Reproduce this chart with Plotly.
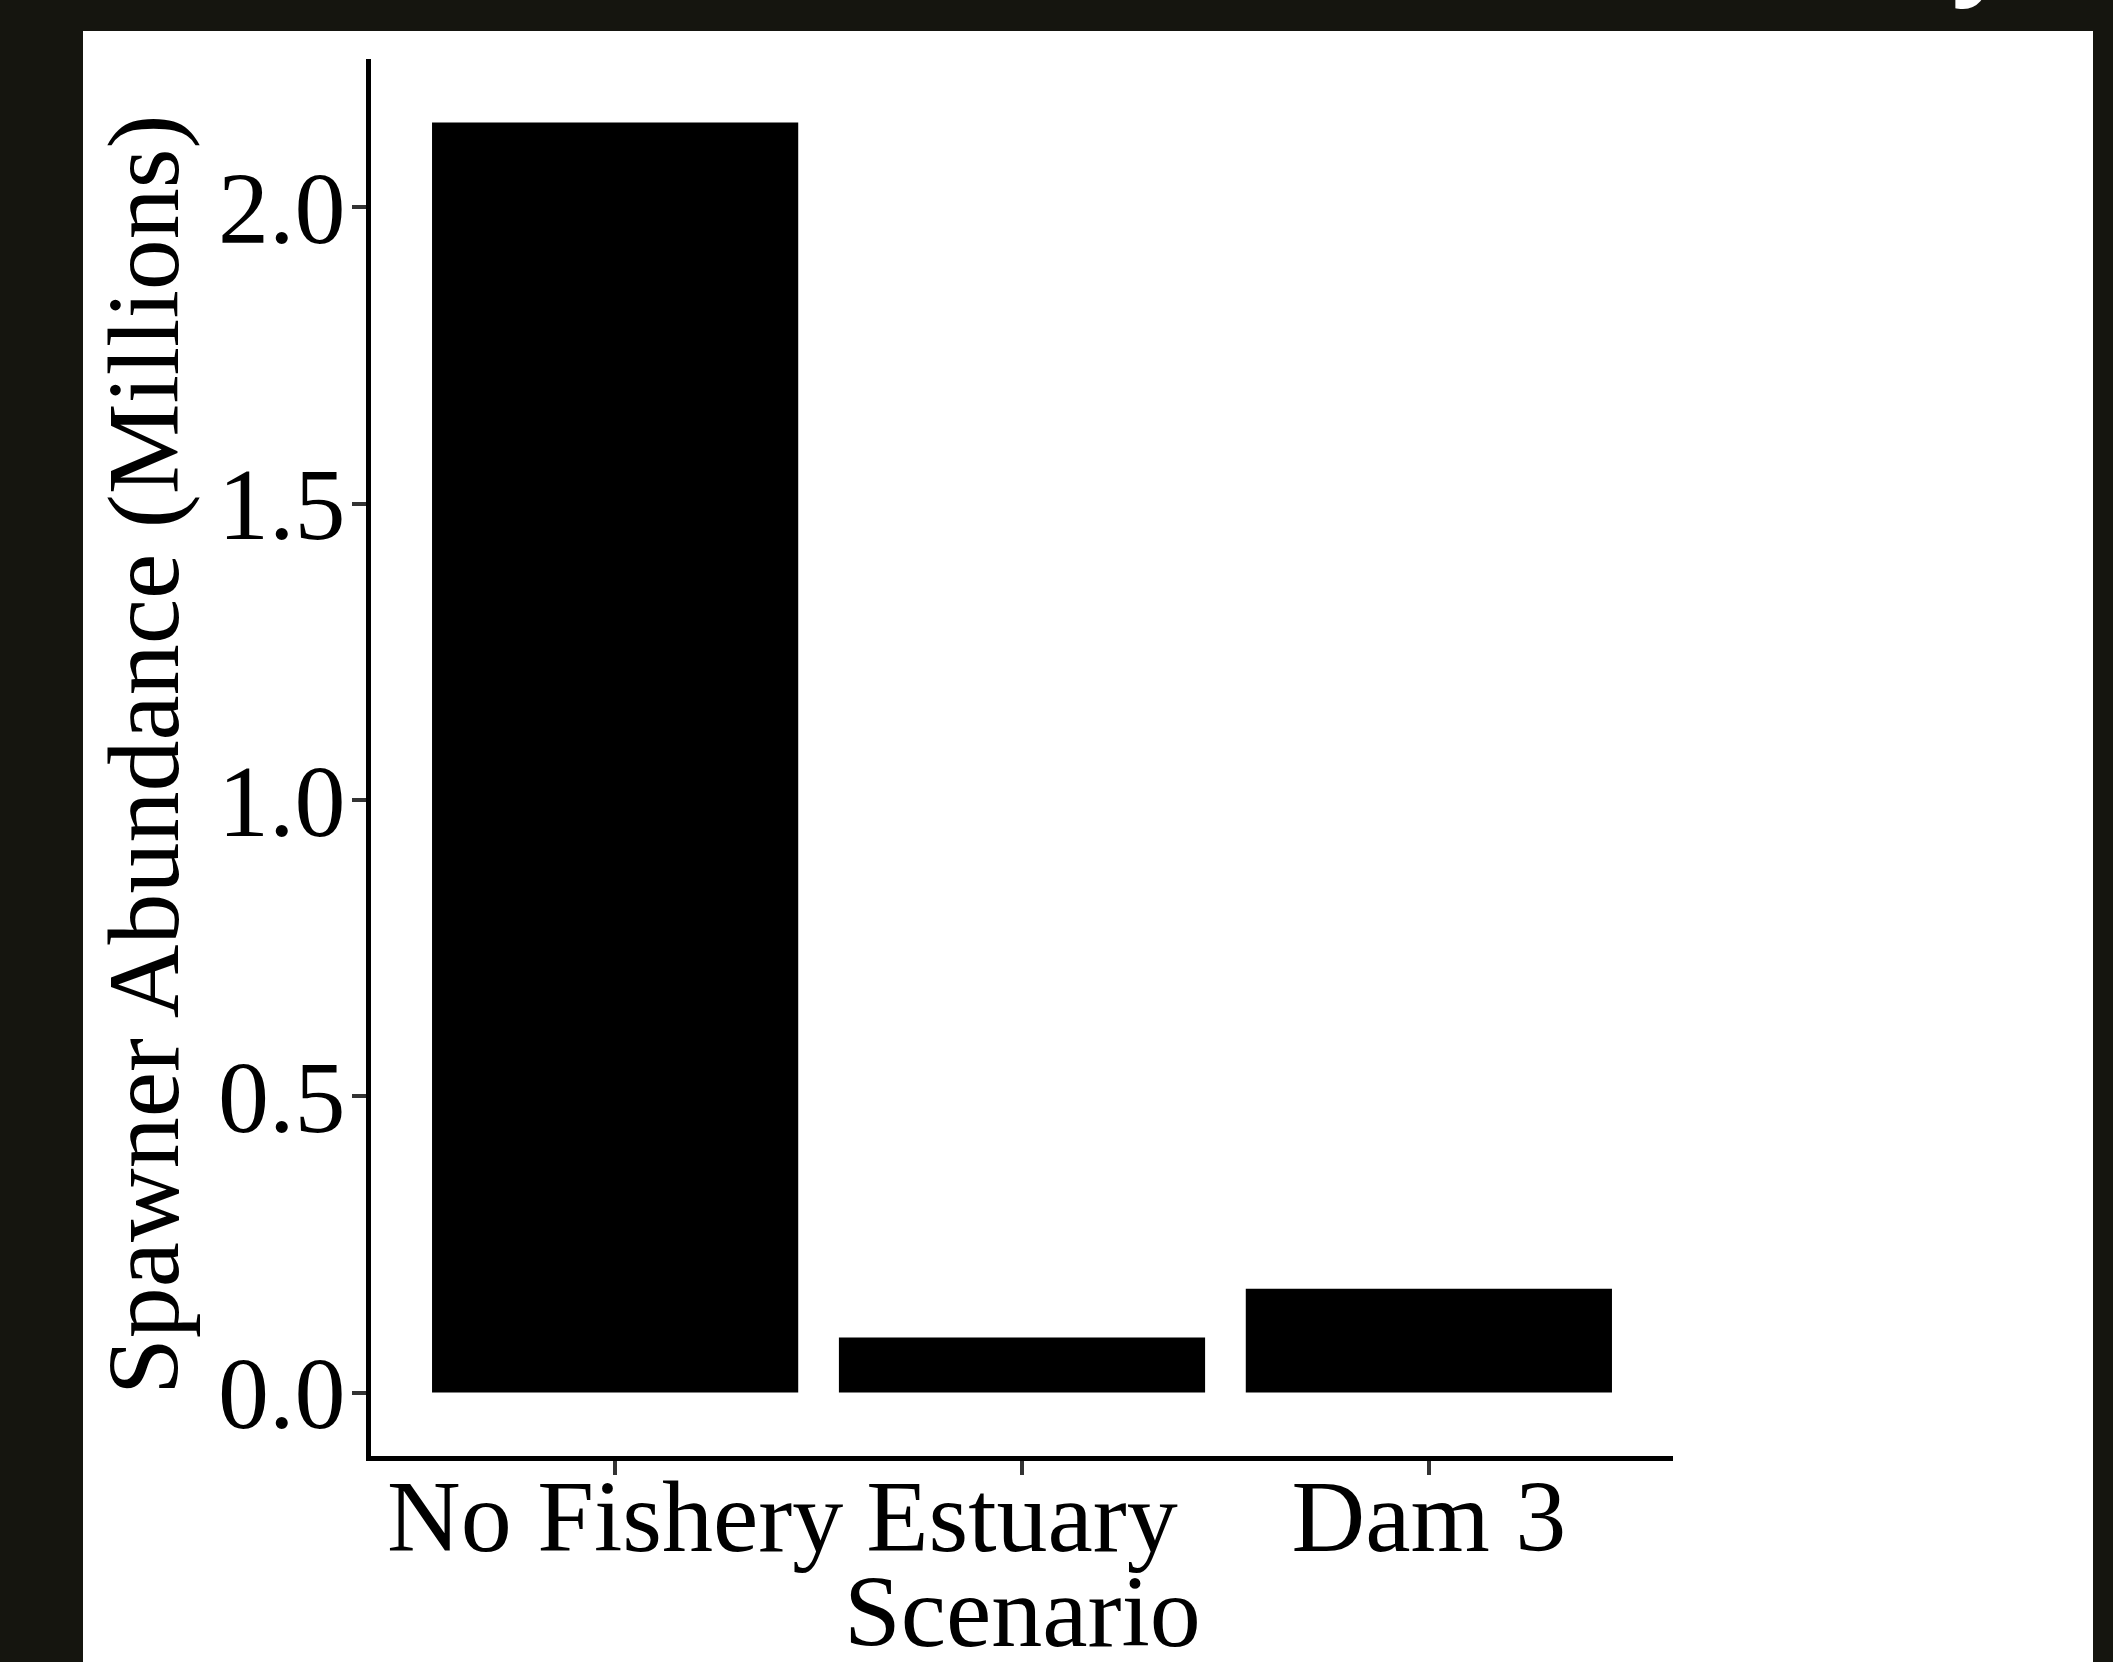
import plotly.graph_objects as go

# ---- data ----
scenarios = ["No Fishery", "Estuary", "Dam 3"]
spawners_millions = [2.143, 0.093, 0.175]
y_tick_values = [0.0, 0.5, 1.0, 1.5, 2.0]
y_tick_labels = ["0.0", "0.5", "1.0", "1.5", "2.0"]
x_title = "Scenario"
y_title = "Spawner Abundance (Millions)"

# ---- layout geometry (pixels) ----
W, H = 2113, 1662
L, R, T, B = 371, 440, 59, 206
PW, PH = W - L - R, H - T - B
BG = "#15150f"


def px_x(px):
    return (px - L) / PW


def px_y(py):
    return (H - B - py) / PH


FONT = "Liberation Serif"
FS = 102

ymax = max(spawners_millions)
pad = 0.05 * ymax

fig = go.Figure(
    go.Bar(
        x=scenarios,
        y=spawners_millions,
        width=0.9,
        marker=dict(color="black", line=dict(width=0)),
        hoverinfo="skip",
    )
)

fig.update_layout(
    width=W,
    height=H,
    margin=dict(l=L, r=R, t=T, b=B, pad=0),
    paper_bgcolor=BG,
    plot_bgcolor="white",
    showlegend=False,
    font=dict(family=FONT, color="black", size=FS),
    shapes=[
        dict(
            type="rect", xref="paper", yref="paper",
            x0=px_x(83), x1=px_x(2093), y0=px_y(1700), y1=px_y(31),
            fillcolor="white", line=dict(width=0), layer="below",
        )
    ],
    annotations=[
        dict(
            text=y_title, textangle=-90, xref="paper", yref="paper",
            x=px_x(143), y=px_y(755), xanchor="center", yanchor="middle",
            showarrow=False, font=dict(family=FONT, size=FS, color="black"),
        ),
        dict(
            text=x_title, xref="paper", yref="paper",
            x=px_x(1022), y=px_y(1612), xanchor="center", yanchor="middle",
            showarrow=False, font=dict(family=FONT, size=FS, color="black"),
        ),
        dict(
            text="<b>y</b>", xref="paper", yref="paper",
            x=px_x(1980), y=px_y(16), xanchor="center", yanchor="bottom",
            showarrow=False, font=dict(family="Open Sans", size=100, color="white"),
        ),
    ],
)

fig.update_xaxes(
    type="category",
    range=[-0.6, 2.6],
    showline=True, linecolor="black", linewidth=5,
    ticks="outside", ticklen=14, tickwidth=4, tickcolor="#333333",
    showgrid=False, zeroline=False,
    tickfont=dict(family=FONT, size=FS, color="black"),
    ticklabelstandoff=-46,
)
fig.update_yaxes(
    range=[-pad, ymax + pad],
    tickvals=y_tick_values, ticktext=y_tick_labels,
    showline=True, linecolor="black", linewidth=5,
    ticks="outside", ticklen=14, tickwidth=4, tickcolor="#333333",
    showgrid=False, zeroline=False,
    tickfont=dict(family=FONT, size=FS, color="black"),
    ticklabelstandoff=-14,
)

fig.write_html(
    "out.html",
    config={"displayModeBar": False, "staticPlot": True},
    post_script=(
        "document.body.style.margin='0';"
        "document.body.style.overflow='hidden';"
        f"document.body.style.background='{BG}';"
    ),
)
